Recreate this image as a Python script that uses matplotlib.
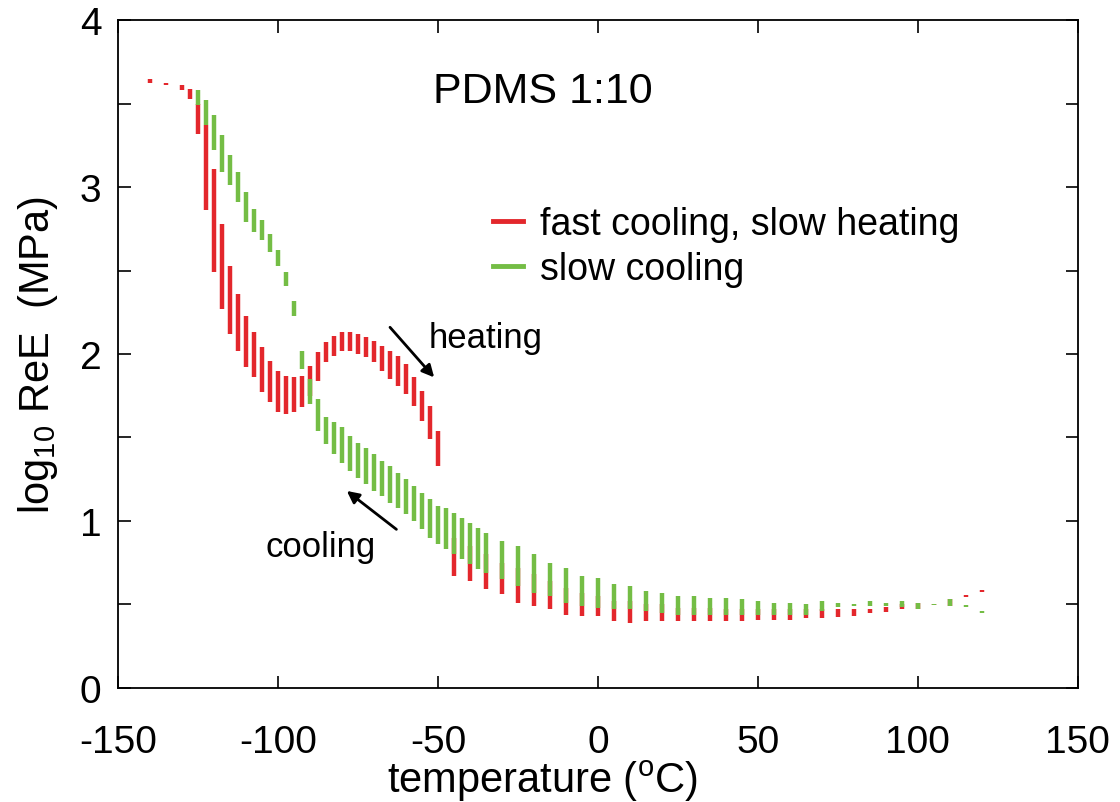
import matplotlib
matplotlib.use("Agg")
import matplotlib.pyplot as plt
from matplotlib.lines import Line2D

plt.rcParams.update({
    "font.family": ["Liberation Sans", "DejaVu Sans"],
    "mathtext.fontset": "custom",
    "mathtext.rm": "Liberation Sans",
    "mathtext.it": "Liberation Sans:italic",
    "font.size": 28,
    "axes.unicode_minus": False,
})

# ---- data: each measurement is a vertical bar from low to high ----
# fast cooling, slow heating (red)
red_temp = [-140, -135, -130, -127.5, -125, -122.5, -120, -117.5, -115, -112.5,
            -110, -107.5, -105, -102.5, -100, -97.5, -95, -92.5, -90, -87.5,
            -85, -82.5, -80, -77.5, -75, -72.5, -70, -67.5, -65, -62.5,
            -60, -57.5, -55, -52.5, -50,
            -45, -40, -35, -30, -25, -20, -15, -10, -5, 0,
            5, 10, 15, 20, 25, 30, 35, 40, 45, 50,
            55, 60, 65, 70, 75, 80, 85, 90, 95, 100,
            105, 110, 115, 120]
red_low = [3.625, 3.61, 3.58, 3.53, 3.32, 2.86, 2.49, 2.27, 2.12, 2.02,
           1.92, 1.86, 1.77, 1.71, 1.65, 1.64, 1.65, 1.68, 1.75, 1.84,
           1.95, 1.99, 2.02, 2.02, 2.00, 1.98, 1.95, 1.90, 1.85, 1.81,
           1.76, 1.69, 1.60, 1.49, 1.33,
           0.67, 0.64, 0.59, 0.56, 0.51, 0.49, 0.47, 0.44, 0.43, 0.43,
           0.40, 0.39, 0.40, 0.40, 0.40, 0.40, 0.40, 0.40, 0.40, 0.41,
           0.41, 0.41, 0.42, 0.42, 0.425, 0.43, 0.45, 0.455, 0.47, 0.47,
           0.495, 0.49, 0.545, 0.575]
red_high = [3.645, 3.625, 3.61, 3.59, 3.50, 3.37, 3.11, 2.78, 2.53, 2.36,
            2.23, 2.13, 2.04, 1.96, 1.90, 1.87, 1.86, 1.87, 1.93, 2.01,
            2.07, 2.11, 2.13, 2.13, 2.12, 2.10, 2.08, 2.05, 2.02, 1.99,
            1.94, 1.86, 1.78, 1.69, 1.54,
            0.90, 0.85, 0.80, 0.75, 0.72, 0.68, 0.64, 0.60, 0.57, 0.55,
            0.52, 0.52, 0.50, 0.50, 0.48, 0.48, 0.48, 0.47, 0.47, 0.47,
            0.47, 0.47, 0.47, 0.47, 0.47, 0.47, 0.47, 0.485, 0.50, 0.51,
            0.505, 0.53, 0.555, 0.585]

# slow cooling (green)
green_temp = [-125, -122.5, -120, -117.5, -115, -112.5, -110, -107.5, -105, -102.5,
              -100, -97.5, -95, -92.5, -90, -87.5, -85, -82.5, -80, -77.5,
              -75, -72.5, -70, -67.5, -65, -62.5, -60, -57.5, -55, -52.5,
              -50, -47.5, -45, -42.5, -40, -37.5, -35,
              -30, -25, -20, -15, -10, -5, 0, 5, 10, 15,
              20, 25, 30, 35, 40, 45, 50, 55, 60, 65,
              70, 75, 80, 85, 90, 95, 100, 105, 110, 115, 120]
green_low = [3.49, 3.37, 3.22, 3.09, 3.01, 2.91, 2.79, 2.73, 2.68, 2.61,
             2.53, 2.41, 2.23, 1.91, 1.70, 1.54, 1.46, 1.40, 1.35, 1.30,
             1.26, 1.22, 1.18, 1.15, 1.11, 1.08, 1.04, 1.00, 0.95, 0.90,
             0.86, 0.83, 0.80, 0.77, 0.74, 0.71, 0.69,
             0.65, 0.61, 0.57, 0.55, 0.51, 0.49, 0.48, 0.47, 0.47, 0.46,
             0.45, 0.44, 0.44, 0.44, 0.44, 0.44, 0.44, 0.44, 0.44, 0.44,
             0.46, 0.485, 0.49, 0.49, 0.49, 0.485, 0.47, 0.495, 0.49, 0.485, 0.45]
green_high = [3.58, 3.52, 3.43, 3.31, 3.19, 3.09, 2.97, 2.87, 2.80, 2.72,
              2.62, 2.49, 2.32, 2.02, 1.85, 1.73, 1.62, 1.59, 1.56, 1.51,
              1.47, 1.44, 1.40, 1.36, 1.33, 1.29, 1.25, 1.21, 1.17, 1.13,
              1.09, 1.08, 1.05, 1.02, 0.99, 0.96, 0.93,
              0.88, 0.85, 0.80, 0.75, 0.72, 0.67, 0.66, 0.62, 0.61, 0.58,
              0.57, 0.55, 0.55, 0.54, 0.54, 0.53, 0.52, 0.51, 0.51, 0.50,
              0.52, 0.51, 0.50, 0.52, 0.51, 0.52, 0.51, 0.505, 0.53, 0.495, 0.46]

labels = ["fast cooling, slow heating", "slow cooling"]
RED = "#e3272c"
GREEN = "#74bd45"

fig = plt.figure(figsize=(11.2, 8.03), dpi=100)
ax = fig.add_axes([0.1054, 0.142, 0.857, 0.8318])

ax.vlines(red_temp, red_low, red_high, colors=RED, linewidth=3.2, capstyle="butt")
ax.vlines(green_temp, green_low, green_high, colors=GREEN, linewidth=3.2, capstyle="butt")

ax.set_xlim(-150, 150)
ax.set_ylim(0, 4)
ax.set_xticks([-150, -100, -50, 0, 50, 100, 150])
ax.set_yticks([0, 1, 2, 3, 4])
ax.set_yticks([0.5, 1.5, 2.5, 3.5], minor=True)
ax.tick_params(which="both", direction="in", top=True, right=True,
               length=9, width=1.2)
ax.tick_params(axis="x", pad=26)
ax.tick_params(axis="y", pad=12)
for s in ax.spines.values():
    s.set_linewidth(1.3)

# gnuplot put the x label a little left of centre
ax.set_xlabel(r"temperature ($^{\rm o}$C)", fontsize=30, labelpad=-2, x=0.442)
ax.set_ylabel(r"log$_{10}$ ReE  (MPa)", fontsize=30, labelpad=14)

ax.text(-51.6, 3.51, "PDMS 1:10", fontsize=31, ha="left", va="baseline")
ax.text(-52.8, 2.04, "heating", fontsize=25, ha="left", va="baseline")
ax.text(-104, 0.79, "cooling", fontsize=25, ha="left", va="baseline")

ax.annotate("", xy=(-51.2, 1.86), xytext=(-65, 2.16),
            arrowprops=dict(arrowstyle="-|>", color="black", lw=2,
                            mutation_scale=18, shrinkA=0, shrinkB=0))
ax.annotate("", xy=(-78.5, 1.18), xytext=(-63, 0.95),
            arrowprops=dict(arrowstyle="-|>", color="black", lw=2,
                            mutation_scale=18, shrinkA=0, shrinkB=0))

handles = [Line2D([], [], color=RED, lw=3.5), Line2D([], [], color=GREEN, lw=3.5)]
ax.legend(handles, labels, loc="upper left", bbox_to_anchor=(0.391, 0.722),
          frameon=False, fontsize=27, handlelength=0.8, handletextpad=0.45,
          labelspacing=0.24, borderpad=0, borderaxespad=0)

fig.savefig("out.png", dpi=100)
